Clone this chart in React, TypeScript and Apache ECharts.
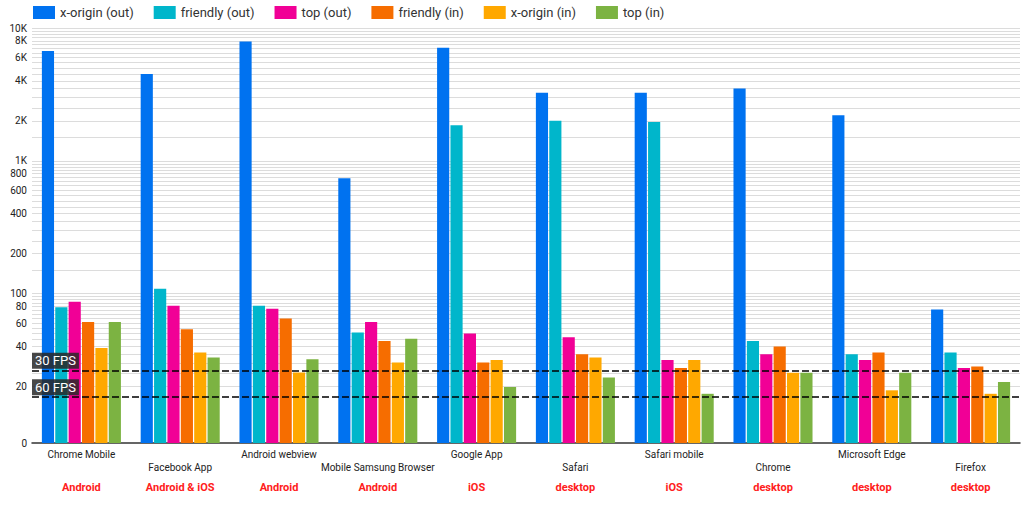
import React, { useEffect, useRef } from "react";
import * as echarts from "echarts";

const categories = [
  "Chrome Mobile",
  "Facebook App",
  "Android webview",
  "Mobile Samsung Browser",
  "Google App",
  "Safari",
  "Safari mobile",
  "Chrome",
  "Microsoft Edge",
  "Firefox",
];
const platforms = [
  "Android",
  "Android & iOS",
  "Android",
  "Android",
  "iOS",
  "desktop",
  "iOS",
  "desktop",
  "desktop",
  "desktop",
];

const seriesNames = [
  "x-origin (out)",
  "friendly (out)",
  "top (out)",
  "friendly (in)",
  "x-origin (in)",
  "top (in)",
];
const seriesColors = ["#0072f0", "#00b6cb", "#f10096", "#f66d00", "#ffa800", "#7cb342"];

const xOriginOut = [6700, 4500, 7900, 740, 7100, 3250, 3250, 3500, 2200, 76];
const friendlyOut = [79, 109, 81, 51, 1850, 2000, 1960, 44, 35, 36];
const topOut = [87, 81, 77, 61, 50, 47, 31.6, 35, 31.6, 27.5];
const friendlyIn = [61, 54, 65, 44, 30.3, 35, 27.5, 40, 36, 28.3];
const xOriginIn = [39, 36, 25.5, 30.3, 31.6, 33, 31.6, 25.4, 18.7, 17.6];
const topIn = [61, 33, 32, 45.7, 19.8, 23.4, 17.6, 25.4, 25.4, 21.6];

const fpsLineNames = ["30 FPS", "60 FPS"];
const fpsLineValues = [26.2, 16.5];

// y-axis (logarithmic, with the bottom labelled 0)
const yBottomValue = 7.5;
const yTopValue = 10000;
const yTickValues = [0, 20, 40, 60, 80, 100, 200, 400, 600, 800, 1000, 2000, 4000, 6000, 8000, 10000];
const yTickLabels = ["0", "20", "40", "60", "80", "100", "200", "400", "600", "800", "1K", "2K", "4K", "6K", "8K", "10K"];
const gridRanges = [
  { from: 20, to: 100, step: 5 },
  { from: 150, to: 1000, step: 50 },
  { from: 1500, to: 10000, step: 500 },
];

const toAxis = (v: number) => (v <= 0 ? Math.log10(yBottomValue) : Math.log10(v));

const allSeries = [xOriginOut, friendlyOut, topOut, friendlyIn, xOriginIn, topIn];

function buildOption() {
  const gridValues: number[] = [];
  gridRanges.forEach((r) => {
    for (let v = r.from; v <= r.to + 1e-9; v += r.step) gridValues.push(toAxis(v));
  });
  const labelAxisValues = yTickValues.map(toAxis);

  const series: any[] = allSeries.map((arr, i) => ({
    name: seriesNames[i],
    type: "bar",
    data: arr.map(toAxis),
    barGap: "10%",
    barCategoryGap: "20%",
    itemStyle: { color: seriesColors[i] },
    ...(i === 0
      ? {
          markLine: {
            silent: true,
            symbol: ["none", "none"],
            z: 10,
            lineStyle: { color: "#000", type: [7, 3], width: 1.5 },
            label: {
              show: true,
              position: "insideStartTop",
              formatter: "{b}",
              color: "#fff",
              backgroundColor: "rgba(40,40,40,0.85)",
              padding: [1, 3, 1, 3],
              fontSize: 13,
              lineHeight: 14,
              fontFamily: "Roboto",
              distance: [0, 2],
            },
            data: fpsLineNames.map((n, k) => ({ name: n, yAxis: toAxis(fpsLineValues[k]) })),
          },
        }
      : {}),
  }));

  return {
    animation: false,
    textStyle: { fontFamily: "Roboto" },
    legend: {
      left: 28,
      top: 1,
      itemWidth: 22,
      itemHeight: 13,
      itemGap: 20,
      icon: "rect",
      textStyle: { fontSize: 13, color: "#333", fontFamily: "Roboto" },
      data: seriesNames,
    },
    grid: { left: 32, right: 4, top: 28, bottom: 63, containLabel: false },
    xAxis: [
      {
        type: "category",
        data: categories,
        position: "bottom",
        axisLine: { show: true, lineStyle: { color: "#333", width: 1.5 } },
        axisTick: { show: false },
        axisLabel: {
          interval: 0,
          margin: 5,
          fontSize: 10,
          lineHeight: 13,
          color: "#222",
          formatter: (val: string, idx: number) => (idx % 2 === 1 ? "\n" + val : val),
        },
      },
      {
        type: "category",
        data: platforms,
        position: "bottom",
        axisLine: { show: false },
        axisTick: { show: false },
        splitLine: { show: false },
        axisLabel: {
          interval: 0,
          margin: 37,
          fontSize: 11,
          lineHeight: 14,
          fontWeight: "bold",
          color: "#ff2020",
          textBorderColor: "#fff",
          textBorderWidth: 2,
        },
      },
    ],
    yAxis: {
      type: "value",
      min: toAxis(yBottomValue),
      max: toAxis(yTopValue),
      axisLine: { show: false },
      axisTick: { show: false, customValues: gridValues },
      splitLine: { show: true, lineStyle: { color: "#dcdcdc", width: 1 } },
      axisLabel: {
        customValues: labelAxisValues,
        margin: 5,
        fontSize: 10,
        color: "#222",
        formatter: (val: number) => {
          let best = 0;
          let bd = Infinity;
          labelAxisValues.forEach((a, i) => {
            const d = Math.abs(a - val);
            if (d < bd) {
              bd = d;
              best = i;
            }
          });
          return yTickLabels[best];
        },
      },
    },
    series,
  };
}

export default function App() {
  const ref = useRef<HTMLDivElement>(null);
  useEffect(() => {
    if (!ref.current) return;
    const chart = echarts.init(ref.current, null, { renderer: "svg" });
    chart.setOption(buildOption() as any);
    return () => chart.dispose();
  }, []);
  return (
    <div
      ref={ref}
      style={{ position: "absolute", left: 0, top: 0, width: 1024, height: 506, background: "#fff" }}
    />
  );
}
